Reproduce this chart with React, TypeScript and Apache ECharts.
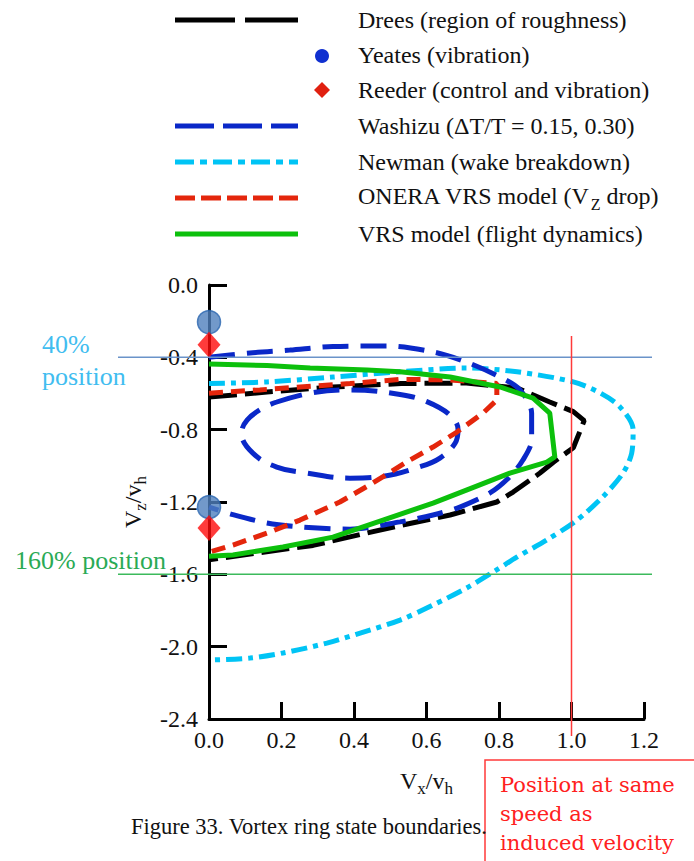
import React, { useEffect, useRef } from "react";
import * as echarts from "echarts";

// ---- Data ----
const xTicks = [0, 0.2, 0.4, 0.6, 0.8, 1.0, 1.2];
const yTicks = [0, -0.4, -0.8, -1.2, -1.6, -2.0, -2.4];

const drees: [number, number][] = [
  [0, -0.62], [0.16, -0.592], [0.342, -0.564], [0.53, -0.545], [0.71, -0.542],
  [0.85, -0.57], [0.94, -0.647], [1.005, -0.7], [1.035, -0.75], [1.005, -0.9],
  [0.95, -0.98], [0.913, -1.04], [0.839, -1.145], [0.794, -1.2], [0.665, -1.272],
  [0.527, -1.33], [0.417, -1.38], [0.287, -1.44], [0.14, -1.48], [0, -1.52],
];

const washizuOuter: [number, number][] = [
  [0, -0.4], [0.113, -0.376], [0.223, -0.36], [0.342, -0.34], [0.49, -0.337],
  [0.618, -0.37], [0.71, -0.426], [0.803, -0.509], [0.858, -0.58], [0.89, -0.708],
  [0.89, -0.857], [0.866, -0.968], [0.83, -1.06], [0.775, -1.15], [0.692, -1.228],
  [0.618, -1.272], [0.527, -1.31], [0.389, -1.35], [0.251, -1.338], [0.16, -1.316],
  [0.066, -1.27], [0, -1.228],
];

const washizuInner: [number, number][] = [
  [0.187, -0.647], [0.279, -0.598], [0.389, -0.58], [0.527, -0.605], [0.601, -0.645],
  [0.665, -0.72], [0.687, -0.8], [0.679, -0.874], [0.637, -0.957], [0.582, -1.005],
  [0.472, -1.06], [0.389, -1.068], [0.27, -1.04], [0.187, -1.007], [0.121, -0.93],
  [0.09, -0.82], [0.105, -0.747], [0.149, -0.68], [0.187, -0.647],
];

const newman: [number, number][] = [
  [0, -0.545], [0.16, -0.536], [0.342, -0.509], [0.527, -0.48], [0.71, -0.459],
  [0.85, -0.48], [1.005, -0.536], [1.08, -0.598], [1.134, -0.675], [1.17, -0.8],
  [1.166, -0.93], [1.142, -1.04], [1.087, -1.17], [1.015, -1.3], [0.932, -1.41],
  [0.85, -1.504], [0.79, -1.58], [0.71, -1.676], [0.618, -1.77], [0.527, -1.853],
  [0.417, -1.925], [0.325, -1.98], [0.204, -2.035], [0.113, -2.063], [0, -2.074],
];

const onera: [number, number][] = [
  [0, -0.598], [0.14, -0.58], [0.251, -0.564], [0.389, -0.545], [0.527, -0.522],
  [0.665, -0.525], [0.794, -0.545], [0.794, -0.636], [0.756, -0.708], [0.684, -0.813],
  [0.618, -0.896], [0.554, -0.968], [0.452, -1.095], [0.361, -1.2], [0.251, -1.3],
  [0.16, -1.372], [0.066, -1.438], [0, -1.477],
];

const vrs: [number, number][] = [
  [0, -0.437], [0.16, -0.445], [0.279, -0.459], [0.436, -0.47], [0.527, -0.48],
  [0.665, -0.509], [0.803, -0.564], [0.894, -0.625], [0.94, -0.708], [0.954, -0.951],
  [0.932, -0.979], [0.83, -1.04], [0.71, -1.134], [0.618, -1.206], [0.48, -1.3],
  [0.342, -1.394], [0.204, -1.449], [0.066, -1.493], [0, -1.5],
];

const yeates: [number, number][] = [[0, -0.205], [0, -1.228]];
const reeder: [number, number][] = [[0, -0.33], [0, -1.344]];

const pos40 = -0.4;
const pos160 = -1.6;
const inducedSpeed = 1.0;

const legendLabels = [
  "Drees (region of roughness)",
  "Yeates (vibration)",
  "Reeder (control and vibration)",
  "Washizu (\u0394T/T = 0.15, 0.30)",
  "Newman (wake breakdown)",
  "{n|ONERA VRS model (V}{s|Z}{n| drop)}",
  "VRS model (flight dynamics)",
];

const boxLines = ["Position at same", "speed as", "induced velocity"];

// ---- Styles ----
const FONT = "Liberation Serif";
const C_DREES = "#000000";
const C_WASH = "#0a28c8";
const C_NEWMAN = "#00c4f5";
const C_ONERA = "#e4260c";
const C_VRS = "#0cc00c";

const DASH_DREES = [28, 8];
const DASH_WASH = [26, 12];
const DASH_NEWMAN = [16, 6, 5, 6];
const DASH_ONERA = [14, 8];

function lineSeries(name: string, data: [number, number][], color: string, dash: any, smooth: number | boolean) {
  return {
    name,
    type: "line",
    data,
    symbol: "none",
    smooth,
    clip: false,
    z: 3,
    lineStyle: { color, width: 5, type: dash, cap: "butt" },
  };
}

const subRich = {
  V: { fontFamily: FONT, fontSize: 24, color: "#111", lineHeight: 28, verticalAlign: "top" },
  s: { fontFamily: FONT, fontSize: 17, color: "#111", lineHeight: 18, verticalAlign: "bottom" },
};

export default function App() {
  const ref = useRef<HTMLDivElement>(null);

  useEffect(() => {
    if (!ref.current) return;
    const chart = echarts.init(ref.current, undefined, { renderer: "svg" });

    const option: any = {
      animation: false,
      backgroundColor: "#ffffff",
      grid: { left: 209, right: 50, top: 285, bottom: 142, containLabel: false },
      xAxis: {
        type: "value",
        min: xTicks[0],
        max: xTicks[xTicks.length - 1],
        interval: 0.2,
        axisLine: { onZero: false, lineStyle: { color: "#000", width: 3 } },
        axisTick: { inside: true, length: 17, lineStyle: { color: "#000", width: 3 } },
        axisLabel: {
          color: "#111",
          fontFamily: FONT,
          fontSize: 24,
          margin: 9,
          formatter: (v: number) => v.toFixed(1),
        },
        splitLine: { show: false },
        name: "{V|V}{s|x}{V|/v}{s|h}",
        nameLocation: "middle",
        nameGap: 50,
        nameTextStyle: { rich: subRich },
      },
      yAxis: {
        type: "value",
        min: yTicks[yTicks.length - 1],
        max: yTicks[0],
        interval: 0.4,
        axisLine: { onZero: false, lineStyle: { color: "#000", width: 3 } },
        axisTick: { inside: true, length: 18, lineStyle: { color: "#000", width: 3 } },
        axisLabel: {
          color: "#111",
          fontFamily: FONT,
          fontSize: 24,
          margin: 11,
          formatter: (v: number) => v.toFixed(1),
        },
        splitLine: { show: false },
        name: "{V|V}{s|z}{V|/v}{s|h}",
        nameLocation: "middle",
        nameRotate: 90,
        nameGap: 58,
        nameTextStyle: { rich: subRich },
      },
      series: [
        lineSeries("Newman (wake breakdown)", newman, C_NEWMAN, DASH_NEWMAN, 0.3),
        lineSeries("Drees (region of roughness)", drees, C_DREES, DASH_DREES, false),
        lineSeries("Washizu outer", washizuOuter, C_WASH, DASH_WASH, 0.3),
        lineSeries("Washizu inner", washizuInner, C_WASH, DASH_WASH, 0.4),
        lineSeries("ONERA VRS model", onera, C_ONERA, DASH_ONERA, false),
        lineSeries("VRS model (flight dynamics)", vrs, C_VRS, "solid", false),
        {
          name: "Yeates (vibration)",
          type: "scatter",
          data: yeates,
          symbol: "circle",
          symbolSize: 23,
          clip: false,
          z: 6,
          itemStyle: { color: "#4f7fbd", borderColor: "#2a66b0", borderWidth: 1.5 },
        },
        {
          name: "Reeder (control and vibration)",
          type: "scatter",
          data: reeder,
          symbol: "diamond",
          symbolSize: [23, 26],
          clip: false,
          z: 6,
          itemStyle: { color: "#ff0a0a" },
        },
      ],
    };
    chart.setOption(option);

    // overlay annotation lines positioned from the chart's scales
    const p40 = chart.convertToPixel({ gridIndex: 0 }, [0, pos40]) as number[];
    const p160 = chart.convertToPixel({ gridIndex: 0 }, [0, pos160]) as number[];
    const pInd = chart.convertToPixel({ gridIndex: 0 }, [inducedSpeed, 0]) as number[];

    const legendRowY = [20, 55, 90, 126, 162, 198, 234];
    const lx1 = 175, lx2 = 298, tx = 358, mx = 322;
    const textStyle = (text: string, y: number) => ({
      type: "text",
      x: tx,
      y,
      style: {
        text,
        fontFamily: FONT,
        fontSize: 24,
        fill: "#111",
        verticalAlign: "middle",
        rich: {
          n: { fontFamily: FONT, fontSize: 24, fill: "#111", color: "#111", lineHeight: 28, verticalAlign: "top" },
          s: { fontFamily: FONT, fontSize: 16, fill: "#111", color: "#111", lineHeight: 16, verticalAlign: "bottom" },
        },
      },
      z: 10,
    });
    const legLine = (y: number, color: string, dash: any) => ({
      type: "line",
      shape: { x1: lx1, y1: y, x2: lx2, y2: y },
      style: { stroke: color, lineWidth: 5, lineDash: dash },
      z: 10,
    });

    const annot = (text: string, x: number, y: number, color: string, size: number, family = FONT) => ({
      type: "text",
      x,
      y,
      style: { text, fontFamily: family, fontSize: size, fill: color, verticalAlign: "middle" },
      z: 9,
    });

    const graphic: any[] = [
      legLine(legendRowY[0], C_DREES, [60, 10]),
      { type: "circle", shape: { cx: mx, cy: legendRowY[1] + 1, r: 7 }, style: { fill: "#1030d0" }, z: 10 },
      {
        type: "polygon",
        shape: { points: [[mx, legendRowY[2] - 8], [mx + 8, legendRowY[2]], [mx, legendRowY[2] + 8], [mx - 8, legendRowY[2]]] },
        style: { fill: "#e02010" },
        z: 10,
      },
      legLine(legendRowY[3], C_WASH, [39, 9]),
      legLine(legendRowY[4], C_NEWMAN, [19, 6, 7, 6]),
      legLine(legendRowY[5], C_ONERA, [20, 6]),
      legLine(legendRowY[6], C_VRS, null),
      ...legendLabels.map((t, i) => textStyle(t, legendRowY[i])),
      // 40% line
      {
        type: "line",
        shape: { x1: 118, y1: p40[1], x2: 652, y2: p40[1] },
        style: { stroke: "#6a93c9", lineWidth: 1.5 },
        z: 8,
      },
      // 160% line
      {
        type: "line",
        shape: { x1: 118, y1: p160[1], x2: 652, y2: p160[1] },
        style: { stroke: "#3cba5c", lineWidth: 1.5 },
        z: 8,
      },
      // induced velocity line
      {
        type: "line",
        shape: { x1: pInd[0], y1: 336, x2: pInd[0], y2: 736 },
        style: { stroke: "#ff3a3a", lineWidth: 1.5 },
        z: 8,
      },
      annot("40%", 42, 344, "#41bdf0", 26),
      annot("position", 42, 376, "#41bdf0", 26),
      annot("160% position", 15, 560, "#2aaa55", 26),
      {
        type: "rect",
        shape: { x: 485, y: 760, width: 230, height: 120 },
        style: { fill: "none", stroke: "#ff3a3a", lineWidth: 1.5 },
        z: 9,
      },
      annot(boxLines[0], 500, 785, "#ff2020", 21, "DejaVu Serif"),
      annot(boxLines[1], 500, 814, "#ff2020", 21, "DejaVu Serif"),
      annot(boxLines[2], 500, 843, "#ff2020", 21, "DejaVu Serif"),
      annot("Figure 33. Vortex ring state boundaries.", 131, 826, "#111", 22.5),
    ];
    chart.setOption({ graphic });

    return () => chart.dispose();
  }, []);

  return (
    <div
      ref={ref}
      style={{ position: "absolute", left: 0, top: 0, width: 694, height: 861, background: "#fff" }}
    />
  );
}
